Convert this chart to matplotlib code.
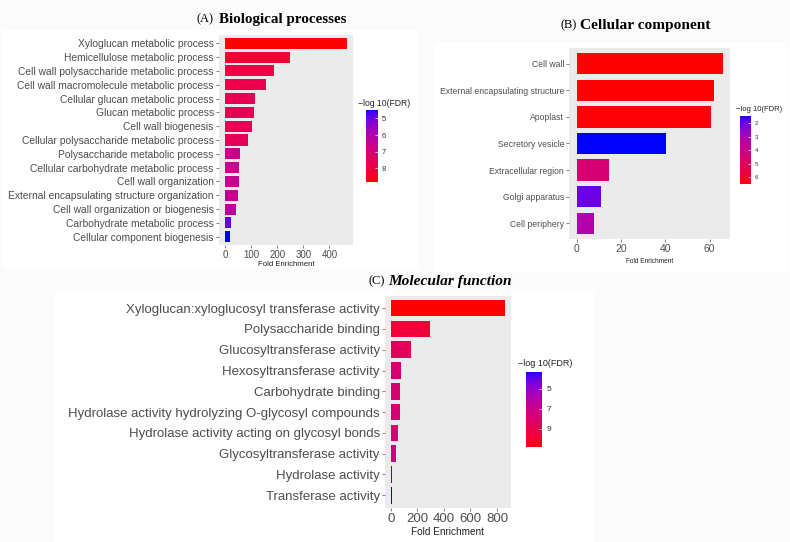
import numpy as np
import matplotlib
matplotlib.use("Agg")
import matplotlib.pyplot as plt
from matplotlib.colors import ListedColormap, Normalize
from matplotlib.cm import ScalarMappable
from matplotlib.patches import Rectangle

plt.rcParams['font.family'] = ['Liberation Sans', 'DejaVu Sans']

# (A) Biological processes
bp_terms = ["Xyloglucan metabolic process", "Hemicellulose metabolic process",
            "Cell wall polysaccharide metabolic process", "Cell wall macromolecule metabolic process",
            "Cellular glucan metabolic process", "Glucan metabolic process",
            "Cell wall biogenesis", "Cellular polysaccharide metabolic process",
            "Polysaccharide metabolic process", "Cellular carbohydrate metabolic process",
            "Cell wall organization", "External encapsulating structure organization",
            "Cell wall organization or biogenesis", "Carbohydrate metabolic process",
            "Cellular component biogenesis"]
bp_fold = [468, 250, 189, 156, 115, 112, 105, 87, 57, 55, 52, 48, 40, 23, 17]
bp_fdr = [8.8, 8.2, 7.9, 7.8, 7.7, 7.7, 7.6, 7.6, 6.7, 6.6, 6.6, 6.5, 6.3, 4.9, 4.5]
bp_cticks = [5, 6, 7, 8]

# (B) Cellular component
cc_terms = ["Cell wall", "External encapsulating structure", "Apoplast", "Secretory vesicle",
            "Extracellular region", "Golgi apparatus", "Cell periphery"]
cc_fold = [65.9, 61.8, 60.7, 40.1, 14.8, 11.0, 8.0]
cc_fdr = [6.52, 6.5, 6.45, 1.46, 4.5, 2.0, 3.3]
cc_cticks = [2, 3, 4, 5, 6]

# (C) Molecular function
mf_terms = ["Xyloglucan:xyloglucosyl transferase activity", "Polysaccharide binding",
            "Glucosyltransferase activity", "Hexosyltransferase activity",
            "Carbohydrate binding", "Hydrolase activity hydrolyzing O-glycosyl compounds",
            "Hydrolase activity acting on glycosyl bonds", "Glycosyltransferase activity",
            "Hydrolase activity", "Transferase activity"]
mf_fold = [860, 298, 155, 77, 73, 68, 58, 43, 13, 11]
mf_fdr = [10.83, 9.6, 8.6, 7.9, 7.9, 7.8, 7.8, 7.4, 3.6, 3.27]
mf_cticks = [5, 7, 9]


# ggplot-like blue -> red gradient, interpolated in Lab space
def srgb_to_lab(c):
    c = np.asarray(c, float)
    lin = np.where(c <= 0.04045, c / 12.92, ((c + 0.055) / 1.055) ** 2.4)
    M = np.array([[0.4124, 0.3576, 0.1805], [0.2126, 0.7152, 0.0722], [0.0193, 0.1192, 0.9505]])
    xyz = M @ lin / np.array([0.95047, 1.0, 1.08883])
    f = np.where(xyz > 0.008856, np.cbrt(xyz), 7.787 * xyz + 16 / 116)
    return np.array([116 * f[1] - 16, 500 * (f[0] - f[1]), 200 * (f[1] - f[2])])


def lab_to_srgb(lab):
    L, a, b = lab
    fy_ = (L + 16) / 116
    f = np.array([fy_ + a / 500, fy_, fy_ - b / 200])
    xyz = np.where(f ** 3 > 0.008856, f ** 3, (f - 16 / 116) / 7.787) * np.array([0.95047, 1.0, 1.08883])
    Minv = np.array([[3.2406, -1.5372, -0.4986], [-0.9689, 1.8758, 0.0415], [0.0557, -0.2040, 1.0570]])
    lin = np.clip(Minv @ xyz, 0, 1)
    return np.where(lin <= 0.0031308, 12.92 * lin, 1.055 * lin ** (1 / 2.4) - 0.055)


lab_blue = srgb_to_lab([0, 0, 1])
lab_red = srgb_to_lab([1, 0, 0])
cols = [lab_to_srgb(lab_blue + t * (lab_red - lab_blue)) for t in np.linspace(0, 1, 256)]
cmap = ListedColormap(np.clip(cols, 0, 1))

W, H = 790, 542
fig = plt.figure(figsize=(W / 100, H / 100), dpi=100, facecolor='#fbfbfb')


def fx(x):
    return x / W


def fy(y):
    return 1 - y / H


# faint white panel boxes behind the plots
for (x0, y0, x1, y1) in [(2, 30, 418, 268), (435, 42, 788, 272), (55, 292, 594, 542)]:
    fig.patches.append(Rectangle((fx(x0), fy(y1)), fx(x1 - x0), (y1 - y0) / H,
                                 transform=fig.transFigure, facecolor='white',
                                 edgecolor='none', zorder=-10))


def panel(box, terms, fold, fdr, ylab_size, xtick_size, xticks, xlab_size, xlab_pos,
          cbox, ctitle_pos, ctitle_size, cticks, ctick_size):
    x0, y0, x1, y1 = box
    ax = fig.add_axes([fx(x0), fy(y1), fx(x1 - x0), (y1 - y0) / H])
    ax.set_facecolor('#EBEBEB')
    norm = Normalize(min(fdr), max(fdr))
    n = len(terms)
    ax.barh(np.arange(n), fold, height=0.8, color=cmap(norm(np.array(fdr))))
    ax.set_ylim(n - 0.4, -0.6)
    ax.set_xlim(-0.05 * max(fold), 1.05 * max(fold))
    ax.set_yticks(np.arange(n))
    ax.set_yticklabels(terms, fontsize=ylab_size, color='#4D4D4D')
    ax.set_xticks(xticks)
    ax.set_xticklabels([str(t) for t in xticks], fontsize=xtick_size, color='#4D4D4D')
    ax.tick_params(length=2.5, width=0.5, color='#555555', pad=1.2)
    for s in ax.spines.values():
        s.set_visible(False)
    fig.text(fx(xlab_pos[0]), fy(xlab_pos[1]), "Fold Enrichment", fontsize=xlab_size,
             ha='center', va='center', color='#222222')

    c0, cy0, c1, cy1 = cbox
    cax = fig.add_axes([fx(c0), fy(cy1), fx(c1 - c0), (cy1 - cy0) / H])
    cb = fig.colorbar(ScalarMappable(norm=norm, cmap=cmap), cax=cax)
    cb.outline.set_visible(False)
    cax.invert_yaxis()
    cb.set_ticks(cticks)
    cax.tick_params(length=2, width=0.5, color='white', direction='in',
                    labelsize=ctick_size, labelcolor='#333333', pad=3)
    fig.text(fx(ctitle_pos[0]), fy(ctitle_pos[1]), "\u2212log 10(FDR)", fontsize=ctitle_size,
             ha='left', va='center', color='#222222')
    return ax


panel((219, 35, 353.3, 245), bp_terms, bp_fold, bp_fdr, 7.4, 7, [0, 100, 200, 300, 400],
      5.6, (286.6, 264), (365.7, 110, 377.7, 181.7), (357.5, 103), 6.2, bp_cticks, 5.5)

panel((569.3, 47.7, 730, 239.3), cc_terms, cc_fold, cc_fdr, 6.2, 7.5, [0, 20, 40, 60],
      4.7, (650, 261.5), (740, 115.7, 750.7, 184.3), (736, 109.3), 5.5, cc_cticks, 4.5)

panel((385, 295.7, 510.7, 507.7), mf_terms, mf_fold, mf_fdr, 9.5, 9.5, [0, 200, 400, 600, 800],
      7.2, (447.8, 532.3), (526, 371.7, 542, 447.3), (518, 363.3), 6.5, mf_cticks, 6)

# panel titles
serif = ['Liberation Serif', 'DejaVu Serif']
fig.text(fx(213.5), fy(19), "(A)", fontsize=9, family=serif, ha='right', va='center')
fig.text(fx(219.5), fy(19), "Biological processes", fontsize=10.9, family=serif,
         fontweight='bold', ha='left', va='center')
fig.text(fx(576.5), fy(25), "(B)", fontsize=9, family=serif, ha='right', va='center')
fig.text(fx(580), fy(25), "Cellular component", fontsize=11.1, family=serif,
         fontweight='bold', ha='left', va='center')
fig.text(fx(384.5), fy(281), "(C)", fontsize=9, family=serif, ha='right', va='center')
fig.text(fx(388.5), fy(281), "Molecular function", fontsize=11.1, family=serif,
         fontweight='bold', fontstyle='italic', ha='left', va='center')

fig.savefig("out.png", dpi=100, facecolor=fig.get_facecolor())
